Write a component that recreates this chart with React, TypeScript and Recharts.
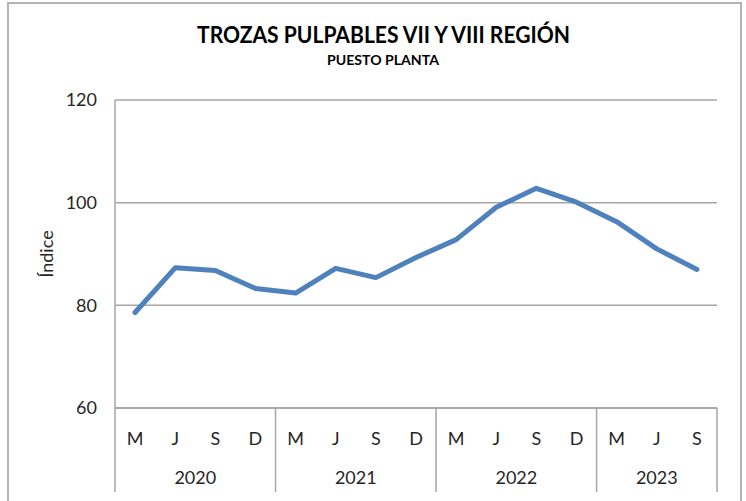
import React from 'react'
import { LineChart, Line, XAxis, YAxis, CartesianGrid } from 'recharts'

const months = ['M', 'J', 'S', 'D', 'M', 'J', 'S', 'D', 'M', 'J', 'S', 'D', 'M', 'J', 'S']
const years = ['2020', '2020', '2020', '2020', '2021', '2021', '2021', '2021', '2022', '2022', '2022', '2022', '2023', '2023', '2023']
const indice = [78.6, 87.3, 86.8, 83.3, 82.4, 87.2, 85.4, 89.3, 92.8, 99.1, 102.8, 100.1, 96.3, 91.0, 87.0]
const yTicks = [60, 80, 100, 120]

const data = months.map((m, i) => ({ key: `${years[i]}-${m}-${i}`, month: m, year: years[i], indice: indice[i] }))

const W = 746
const H = 501
const PLOT_LEFT = 115
const PLOT_RIGHT = 717
const PLOT_TOP = 100
const PLOT_BOTTOM = 408
const BAND = (PLOT_RIGHT - PLOT_LEFT) / months.length
const FONT = 'Lato, "Open Sans", sans-serif'
const TEXT = '#262626'
const GRID = '#a6a6a6'

function MonthTick(props: any) {
  const { x, payload } = props
  const i = payload.index
  const yr = years[i]
  const first = i === 0 || years[i - 1] !== yr
  const last = i === months.length - 1
  let yearLabel = null
  if (first) {
    const count = years.filter((y) => y === yr).length
    yearLabel = (
      <text x={x + ((count - 1) / 2) * BAND} y={477} textAnchor="middle" dominantBaseline="central"
        fontSize={18} fontFamily={FONT} fill={TEXT}>
        {yr}
      </text>
    )
  }
  return (
    <g>
      <text x={x} y={438} textAnchor="middle" dominantBaseline="central" fontSize={18} fontFamily={FONT} fill={TEXT}>
        {months[i]}
      </text>
      {first && <line x1={x - BAND / 2} x2={x - BAND / 2} y1={PLOT_BOTTOM} y2={492} stroke={GRID} strokeWidth={1.5} />}
      {last && <line x1={x + BAND / 2} x2={x + BAND / 2} y1={PLOT_BOTTOM} y2={492} stroke={GRID} strokeWidth={1.5} />}
      {yearLabel}
    </g>
  )
}

export default function App() {
  return (
    <div style={{ position: 'absolute', left: 0, top: 0, width: W, height: H, background: '#fff', overflow: 'hidden' }}>
      <div style={{ position: 'absolute', left: 7, top: 2, width: 731, height: 520, border: '2px solid #b4b4b4' }} />
      <svg width={W} height={80} style={{ position: 'absolute', left: 0, top: 0 }}>
        <text x={383.5} y={43.3} textAnchor="middle" fontSize={23} fontWeight={700} fontFamily={FONT} fill="#000"
          textLength={373} lengthAdjust="spacingAndGlyphs">
          TROZAS PULPABLES VII Y VIII REGIÓN
        </text>
        <text x={383} y={64.5} textAnchor="middle" fontSize={14} fontWeight={700} fontFamily={FONT} fill="#000"
          textLength={112} lengthAdjust="spacingAndGlyphs">
          PUESTO PLANTA
        </text>
      </svg>
      <div style={{ position: 'absolute', left: 0, top: 0 }}>
        <LineChart
          width={W}
          height={H}
          data={data}
          margin={{ top: PLOT_TOP, right: W - PLOT_RIGHT, left: 0, bottom: 9 }}
        >
          <CartesianGrid vertical={false} stroke={GRID} strokeWidth={1.5} />
          <XAxis
            dataKey="key"
            interval={0}
            height={H - 9 - PLOT_BOTTOM}
            padding={{ left: BAND / 2, right: BAND / 2 }}
            axisLine={{ stroke: GRID, strokeWidth: 1.5 }}
            tickLine={false}
            tick={(p: any) => <MonthTick {...p} />}
          />
          <YAxis
            width={PLOT_LEFT}
            domain={[60, 120]}
            ticks={yTicks}
            interval={0}
            tickSize={0}
            tickMargin={18}
            axisLine={{ stroke: GRID, strokeWidth: 1.5 }}
            tickLine={false}
            tick={{ fontSize: 18, fontFamily: FONT, fill: TEXT }}
            label={{
              content: () => (
                <text x={46} y={(PLOT_TOP + PLOT_BOTTOM) / 2} transform={`rotate(-90 46 ${(PLOT_TOP + PLOT_BOTTOM) / 2})`}
                  textAnchor="middle" dominantBaseline="central" fontSize={18} fontFamily={FONT} fill={TEXT}>
                  Índice
                </text>
              ),
            }}
          />
          <Line
            type="linear"
            dataKey="indice"
            stroke="#4f81bd"
            strokeWidth={5}
            strokeLinecap="round"
            strokeLinejoin="round"
            dot={false}
            activeDot={false}
            isAnimationActive={false}
          />
        </LineChart>
      </div>
    </div>
  )
}
